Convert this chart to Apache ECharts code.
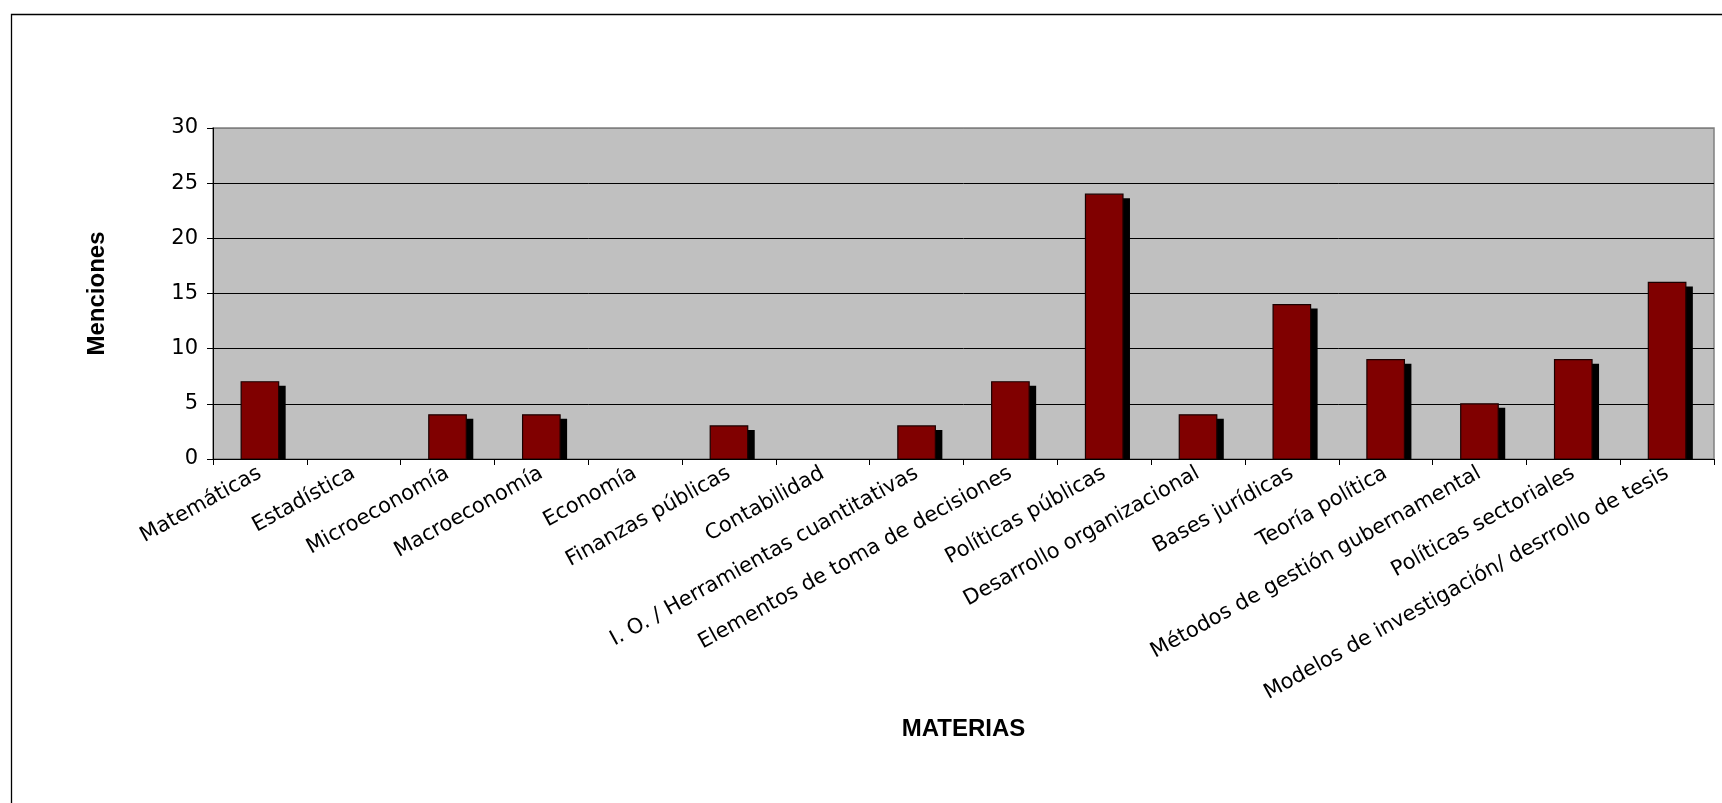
<!DOCTYPE html>
<html>
<head>
<meta charset="utf-8">
<script src="https://cdn.jsdelivr.net/npm/echarts@6/dist/echarts.min.js"></script>
<style>
  html, body { margin: 0; padding: 0; background: #fff; }
  #chart { width: 1722px; height: 803px; }
</style>
</head>
<body>
<div id="chart"></div>
<script>
// Materias mencionadas y número de menciones
const categories = [
  'Matemáticas',
  'Estadística',
  'Microeconomía',
  'Macroeconomía',
  'Economía',
  'Finanzas públicas',
  'Contabilidad',
  'I. O. / Herramientas cuantitativas',
  'Elementos de toma de decisiones',
  'Políticas públicas',
  'Desarrollo organizacional',
  'Bases jurídicas',
  'Teoría política',
  'Métodos de gestión gubernamental',
  'Políticas sectoriales',
  'Modelos de investigación/ desrrollo de tesis'
];
const menciones = [7, 0, 4, 4, 0, 3, 0, 3, 7, 24, 4, 14, 9, 5, 9, 16];
const yTicks = [0, 5, 10, 15, 20, 25, 30];

const FONT = '"Liberation Sans", Arial, sans-serif';
const WIDE_FONT = '"DejaVu Sans", "Liberation Sans", sans-serif';

const chart = echarts.init(document.getElementById('chart'), null, { renderer: 'canvas' });

// bar drawn with an offset black drop shadow that stops at the axis
function renderBar(params, api) {
  const idx = api.value(0);
  const v = api.value(1);
  if (!v) return null;
  const base = api.coord([idx, 0]);
  const top = api.coord([idx, v]);
  const bw = api.size([1, 0])[0] * 0.4;
  const x = base[0] - bw / 2;
  const h = base[1] - top[1];
  return {
    type: 'group',
    children: [
      {
        type: 'rect',
        shape: { x: x + 7, y: top[1] + 4, width: bw, height: Math.max(h - 4, 0) },
        style: { fill: '#000000' }
      },
      {
        type: 'rect',
        shape: { x: x, y: top[1], width: bw, height: h },
        style: { fill: '#800000', stroke: '#1a0000', lineWidth: 1.2 }
      }
    ]
  };
}

chart.setOption({
  animation: false,
  backgroundColor: '#ffffff',
  graphic: [
    {
      type: 'rect',
      left: 9, top: 12,
      shape: { width: 1800, height: 900 },
      style: { fill: 'none', stroke: '#000', lineWidth: 1.3 },
      z: -10
    }
  ],
  grid: {
    left: 213, top: 128, width: 1501, height: 331,
    show: true,
    backgroundColor: '#C0C0C0',
    borderColor: '#808080',
    borderWidth: 1.5
  },
  xAxis: {
    type: 'category',
    data: categories,
    boundaryGap: true,
    name: 'MATERIAS',
    nameLocation: 'middle',
    nameGap: 258,
    nameTextStyle: { fontFamily: FONT, fontSize: 24, fontWeight: 'bold', color: '#000' },
    axisLine: { show: true, lineStyle: { color: '#000', width: 1 } },
    axisTick: { show: true, inside: false, length: 6, alignWithLabel: false, lineStyle: { color: '#000' } },
    axisLabel: {
      interval: 0,
      rotate: 29,
      margin: 13,
      fontFamily: WIDE_FONT,
      fontSize: 21,
      color: '#000'
    }
  },
  yAxis: {
    type: 'value',
    min: yTicks[0],
    max: yTicks[yTicks.length - 1],
    interval: yTicks[1] - yTicks[0],
    name: 'Menciones',
    nameLocation: 'middle',
    nameRotate: 90,
    nameGap: 104,
    nameTextStyle: { fontFamily: FONT, fontSize: 24, fontWeight: 'bold', color: '#000' },
    axisLine: { show: true, lineStyle: { color: '#000', width: 1 } },
    axisTick: { show: true, inside: false, length: 6, lineStyle: { color: '#000' } },
    axisLabel: { margin: 15, fontFamily: WIDE_FONT, fontSize: 21, color: '#000' },
    splitLine: {
      show: true,
      lineStyle: { color: ['#000', '#000', '#000', '#000', '#000', '#000', '#808080'], width: 1 }
    }
  },
  series: [
    {
      type: 'custom',
      renderItem: renderBar,
      encode: { x: 0, y: 1 },
      data: menciones.map((v, i) => [i, v]),
      clip: true
    }
  ]
});
</script>
</body>
</html>
